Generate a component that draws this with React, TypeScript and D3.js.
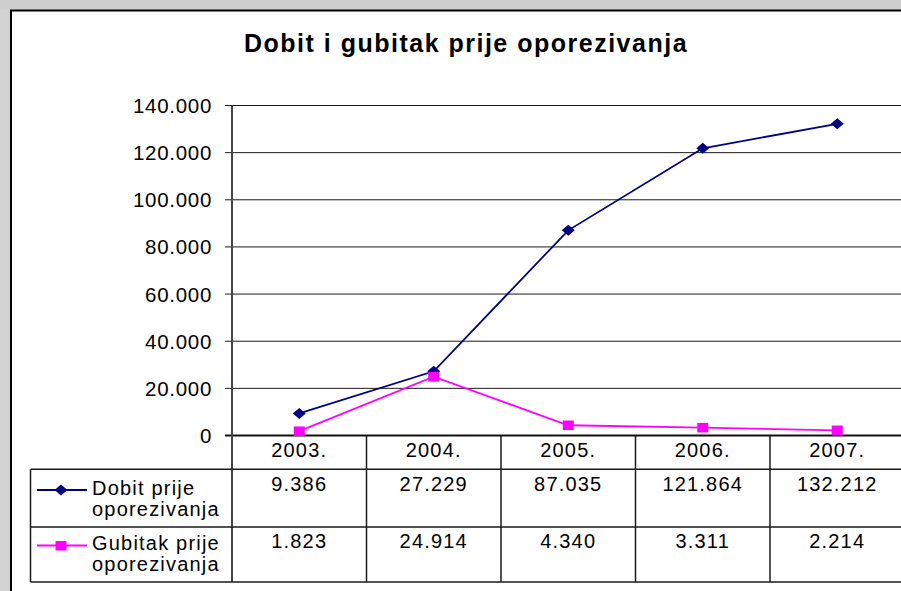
import React from "react";
import * as d3 from "d3";

const years = ["2003.", "2004.", "2005.", "2006.", "2007."];
const dobit = [9386, 27229, 87035, 121864, 132212];
const gubitak = [1823, 24914, 4340, 3311, 2214];
const dobitLabels = ["9.386", "27.229", "87.035", "121.864", "132.212"];
const gubitakLabels = ["1.823", "24.914", "4.340", "3.311", "2.214"];
const yTicks = [0, 20000, 40000, 60000, 80000, 100000, 120000, 140000];
const seriesNames = [["Dobit prije", "oporezivanja"], ["Gubitak prije", "oporezivanja"]];
const title = "Dobit i gubitak prije oporezivanja";

const W = 901;
const H = 591;
const plotLeft = 232;
const plotRight = 904.5;
const plotTop = 105.5;
const plotBottom = 435.5;
const row1 = 469.3;
const row2 = 527;
const row3 = 582;
const tableLeft = 30.5;

const fmt = (v: number) => (v === 0 ? "0" : d3.format(",")(v).replace(/,/g, "."));

export default function App() {
  const x = d3.scaleBand<string>().domain(years).range([plotLeft, plotRight]);
  const y = d3.scaleLinear().domain([0, 140000]).range([plotBottom, plotTop]);
  const cx = (i: number) => (x(years[i]) as number) + x.bandwidth() / 2;
  const line = d3
    .line<number>()
    .x((_, i) => cx(i))
    .y((d) => y(d));
  const font = "Arial, 'Liberation Sans', sans-serif";
  const diamond = (px: number, py: number) =>
    `M${px - 6.5},${py} L${px},${py - 5.5} L${px + 6.5},${py} L${px},${py + 5.5} Z`;
  const lineCol = "#1a1a1a";
  return (
    <svg
      width={W}
      height={H}
      style={{ position: "absolute", left: 0, top: 0, display: "block" }}
      fontFamily={font}
    >
      <rect x={0} y={0} width={W} height={H} fill="#d2d2d2" />
      <rect x={0} y={0} width={W} height={10} fill="#cfcfcf" />
      <rect x={11} y={10.5} width={W} height={H} fill="#ffffff" stroke="#000" strokeWidth={2} />
      <text
        x={466}
        y={52}
        textAnchor="middle"
        fontSize={25}
        fontWeight="bold"
        letterSpacing={1.5}
        fill="#000"
      >
        {title}
      </text>
      {/* gridlines & ticks */}
      {yTicks.map((t) => (
        <g key={t}>
          <line x1={225} x2={W} y1={y(t)} y2={y(t)} stroke={t === 0 ? "#111" : lineCol} strokeWidth={t === 0 ? 2 : 1} />
          <text x={212} y={y(t) + 7.5} textAnchor="end" fontSize={20.5} letterSpacing={0.7} fill="#000">
            {fmt(t)}
          </text>
        </g>
      ))}
      {/* y axis */}
      <line x1={plotLeft} x2={plotLeft} y1={plotTop} y2={row3} stroke="#444" strokeWidth={2} />
      {/* table */}
      <line x1={tableLeft} x2={W} y1={row1} y2={row1} stroke={lineCol} strokeWidth={1.5} />
      <line x1={tableLeft} x2={W} y1={row2} y2={row2} stroke={lineCol} strokeWidth={1.5} />
      <line x1={tableLeft} x2={W} y1={row3} y2={row3} stroke={lineCol} strokeWidth={1.5} />
      <line x1={tableLeft} x2={tableLeft} y1={row1} y2={row3} stroke={lineCol} strokeWidth={1.5} />
      {years.map((yr, i) => (
        <g key={yr}>
          <line
            x1={(x(yr) as number) + x.bandwidth()}
            x2={(x(yr) as number) + x.bandwidth()}
            y1={plotBottom}
            y2={row3}
            stroke={lineCol}
            strokeWidth={1.5}
          />
          <text x={cx(i)} y={457} textAnchor="middle" fontSize={20} letterSpacing={1.2} fill="#000">
            {yr}
          </text>
          <text x={cx(i)} y={491} textAnchor="middle" fontSize={20} letterSpacing={1.2} fill="#000">
            {dobitLabels[i]}
          </text>
          <text x={cx(i)} y={548} textAnchor="middle" fontSize={20} letterSpacing={1.2} fill="#000">
            {gubitakLabels[i]}
          </text>
        </g>
      ))}
      {/* legend keys */}
      <line x1={37} x2={87} y1={490} y2={490} stroke="#000080" strokeWidth={1.8} />
      <path d={diamond(61, 490)} fill="#000080" />
      <line x1={37} x2={87} y1={545.5} y2={545.5} stroke="#ff00ff" strokeWidth={1.8} />
      <rect x={55.5} y={541} width={11} height={9.5} fill="#ff00ff" />
      {seriesNames.map((nm, k) => (
        <text key={k} fontSize={20} letterSpacing={1.2} fill="#000">
          <tspan x={92} y={k === 0 ? 495 : 550}>{nm[0]}</tspan>
          <tspan x={92} y={k === 0 ? 516 : 571}>{nm[1]}</tspan>
        </text>
      ))}
      {/* series */}
      <path d={line(dobit) || ""} fill="none" stroke="#000080" strokeWidth={1.8} />
      <path d={line(gubitak) || ""} fill="none" stroke="#ff00ff" strokeWidth={1.8} />
      {dobit.map((v, i) => (
        <path key={"d" + i} d={diamond(cx(i), y(v))} fill="#000080" />
      ))}
      {gubitak.map((v, i) => (
        <rect key={"g" + i} x={cx(i) - 5.5} y={y(v) - 4.75} width={11} height={9.5} fill="#ff00ff" />
      ))}
    </svg>
  );
}
